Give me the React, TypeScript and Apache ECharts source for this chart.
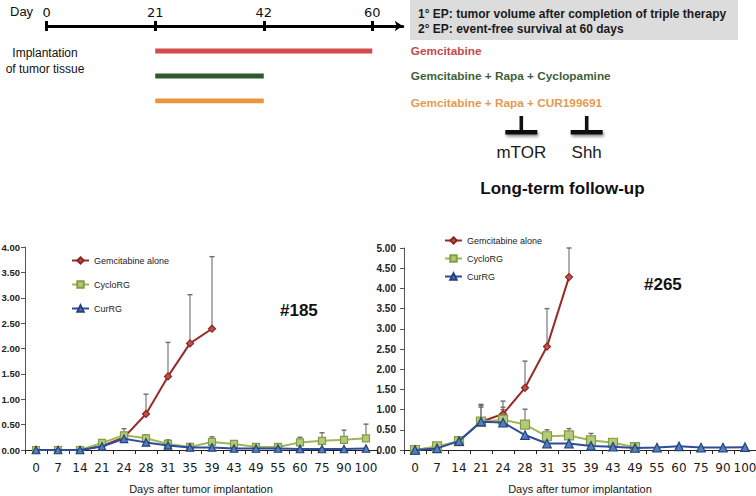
import React, { useEffect, useRef } from 'react';
import * as echarts from 'echarts';

// ---------- data ----------
const days = ['0', '7', '14', '21', '24', '28', '31', '35', '39', '43', '49', '55', '60', '75', '90', '100'];
const seriesNames = ['Gemcitabine alone', 'CycloRG', 'CurRG'];

// #185
const gem185 = [0, 0, 0, 0.08, 0.25, 0.71, 1.45, 2.1, 2.39];
const gem185Err = [null, null, null, null, null, 1.1, 2.12, 3.06, 3.81];
const cyclo185 = [0, 0, 0, 0.14, 0.29, 0.23, 0.12, 0.06, 0.16, 0.12, 0.06, 0.06, 0.15, 0.18, 0.2, 0.23];
const cyclo185Err = [null, null, null, null, 0.42, 0.3, 0.2, null, 0.26, 0.16, 0.1, 0.1, 0.25, 0.34, 0.39, 0.51];
const cur185 = [0, 0, 0, 0.07, 0.22, 0.15, 0.09, 0.05, 0.05, 0.03, 0.03, 0.03, 0.02, 0.02, 0.02, 0.03];

// #265
const gem265 = [0, 0.07, 0.22, 0.7, 0.89, 1.54, 2.56, 4.28];
const gem265Err = [null, null, null, 1.13, 1.21, 2.2, 3.5, 5.0];
const cyclo265 = [0, 0.09, 0.22, 0.7, 0.75, 0.63, 0.34, 0.36, 0.24, 0.18, 0.07];
const cyclo265Err = [null, null, null, 1.1, 1.06, 1.01, 0.5, 0.53, 0.41, 0.22, null];
const cur265 = [0, 0.04, 0.22, 0.7, 0.68, 0.37, 0.16, 0.16, 0.1, 0.08, 0.05, 0.06, 0.09, 0.06, 0.06, 0.07];
const cur265Err = [null, null, null, 1.06, 1.0];

// timeline
const timelineDays = ['0', '21', '42', '60'];
const treatmentNames = ['Gemcitabine', 'Gemcitabine + Rapa + Cyclopamine', 'Gemcitabine + Rapa + CUR199691'];
const treatmentStart = [1, 1, 1];
const treatmentEnd = [3, 2, 2];
const endpoints = ['1° EP: tumor volume after completion of triple therapy', '2° EP: event-free survival at 60 days'];
const targets = ['mTOR', 'Shh'];
const panelLabels = ['#185', '#265'];

// ---------- styles ----------
const lineColors = ['#962b28', '#9fb65c', '#2f4c9b'];
const markerFill = ['#c0504d', '#b3ca78', '#4f81bd'];
const markerBorder = ['#8a2623', '#839d43', '#26407f'];
const symbols = ['diamond', 'rect', 'triangle'];
const treatmentColors = ['#d44b4b', '#2f5a2c', '#e8963a'];
const treatmentTextColors = ['#c8474a', '#3e5f3a', '#e49a4e'];

const errData = (vals: (number | null)[], errs: (number | null)[]) =>
  errs
    .map((e, i) => (e == null || vals[i] == null ? null : [i, vals[i] as number, e]))
    .filter((d) => d !== null);

const errRender = (params: any, api: any) => {
  const i = api.value(0);
  const lo = api.value(1);
  const hi = api.value(2);
  const a = api.coord([i, lo]);
  const b = api.coord([i, hi]);
  return {
    type: 'group',
    children: [
      { type: 'line', shape: { x1: a[0], y1: a[1], x2: b[0], y2: b[1] }, style: { stroke: '#8d8d8d', lineWidth: 1.4 } },
      { type: 'line', shape: { x1: b[0] - 2.5, y1: b[1], x2: b[0] + 2.5, y2: b[1] }, style: { stroke: '#6d6d6d', lineWidth: 1.4 } },
    ],
  };
};

const lineSeries = (k: number, data: (number | null)[], axis: number, size: number) => ({
  type: 'line',
  name: seriesNames[k],
  xAxisIndex: axis,
  yAxisIndex: axis,
  data,
  symbol: symbols[k],
  symbolSize: k === 2 ? size - 0.5 : size,
  z: 3 + k,
  lineStyle: { color: lineColors[k], width: 2 },
  itemStyle: { color: markerFill[k], borderColor: markerBorder[k], borderWidth: 1.2 },
  connectNulls: false,
});

const errSeries = (vals: (number | null)[], errs: (number | null)[], axis: number) => ({
  type: 'custom',
  xAxisIndex: axis,
  yAxisIndex: axis,
  renderItem: errRender,
  data: errData(vals, errs),
  encode: { x: 0, y: [1, 2] },
  z: 1,
  silent: true,
});

const chartX = (gridIndex: number) => ({
  type: 'category',
  gridIndex,
  data: days,
  boundaryGap: true,
  axisLine: { lineStyle: { color: '#222', width: 1.2 } },
  axisTick: { show: true, length: 4, lineStyle: { color: '#222' } },
  axisLabel: { interval: 0, margin: 12, fontSize: 12, fontFamily: 'DejaVu Sans', color: '#1a1a1a' },
  name: 'Days after tumor implantation',
  nameLocation: 'middle',
  nameGap: 33,
  nameTextStyle: { fontSize: 11, fontFamily: 'Liberation Sans', color: '#1a1a1a' },
  splitLine: { show: false },
});

const chartY = (gridIndex: number, max: number, margin: number, fontSize: number) => ({
  type: 'value',
  gridIndex,
  min: 0,
  max,
  interval: 0.5,
  axisLine: { show: true, lineStyle: { color: '#555', width: 1 } },
  axisTick: { show: true, length: 4, lineStyle: { color: '#555' } },
  axisLabel: {
    margin,
    fontSize,
    fontWeight: 'bold',
    fontFamily: 'Liberation Sans',
    color: '#222',
    formatter: (v: number) => v.toFixed(2),
  },
  splitLine: { show: false },
});

const shadow = { shadowColor: 'rgba(0,0,0,0.45)', shadowBlur: 3, shadowOffsetX: 1, shadowOffsetY: 2 };

export default function App() {
  const ref = useRef<HTMLDivElement>(null);
  useEffect(() => {
    if (!ref.current) return;
    const chart = echarts.init(ref.current, undefined, { renderer: 'svg' });
    const option: any = {
      animation: false,
      backgroundColor: '#ffffff',
      grid: [
        { left: 25, top: 247, width: 352, height: 203, outerBoundsMode: 'none', containLabel: false },
        { left: 404, top: 248, width: 352, height: 202, outerBoundsMode: 'none', containLabel: false },
        { left: 46.7, top: 26, width: 356, height: 75, outerBoundsMode: 'none', containLabel: false },
      ],
      legend: [
        {
          data: seriesNames,
          orient: 'vertical',
          left: 66,
          top: 251,
          itemWidth: 17,
          itemHeight: 8,
          itemGap: 15,
          textStyle: { fontSize: 9, fontFamily: 'Liberation Sans', color: '#222' },
          selectedMode: false,
        },
        {
          data: seriesNames,
          orient: 'vertical',
          left: 439,
          top: 231,
          itemWidth: 17,
          itemHeight: 8,
          itemGap: 9,
          textStyle: { fontSize: 9, fontFamily: 'Liberation Sans', color: '#222' },
          selectedMode: false,
        },
      ],
      xAxis: [
        chartX(0),
        chartX(1),
        {
          type: 'value',
          gridIndex: 2,
          position: 'top',
          min: 0,
          max: 3.28,
          axisLine: {
            show: true,
            lineStyle: { color: '#000', width: 3 },
            symbol: ['none', 'arrow'],
            symbolSize: [8, 8],
          },
          axisTick: { show: true, customValues: [0, 1, 2, 3], length: 5, lineStyle: { color: '#000', width: 3 } },
          axisLabel: {
            customValues: [0, 1, 2, 3],
            formatter: (v: number) => timelineDays[Math.round(v)] ?? '',
            margin: 7,
            fontSize: 13,
            fontFamily: 'DejaVu Sans',
            color: '#111',
          },
          splitLine: { show: false },
        },
        {
          type: 'value',
          gridIndex: 2,
          position: 'top',
          min: 0,
          max: 3.28,
          axisLine: { show: false },
          axisTick: { show: true, inside: true, customValues: [0, 1, 2, 3], length: 5, lineStyle: { color: '#000', width: 3 } },
          axisLabel: { show: false },
          splitLine: { show: false },
        },
      ],
      yAxis: [
        chartY(0, 4, 5, 9.5),
        chartY(1, 5, 8, 10),
        { type: 'value', gridIndex: 2, min: 0, max: 3, inverse: true, show: false },
      ],
      series: [
        errSeries(gem185, gem185Err, 0),
        errSeries(cyclo185, cyclo185Err, 0),
        lineSeries(0, gem185, 0, 7),
        lineSeries(1, cyclo185, 0, 7),
        lineSeries(2, cur185, 0, 8),
        errSeries(gem265, gem265Err, 1),
        errSeries(cyclo265, cyclo265Err, 1),
        errSeries(cur265, cur265Err, 1),
        lineSeries(0, gem265, 1, 7),
        lineSeries(1, cyclo265, 1, 9),
        lineSeries(2, cur265, 1, 9),
        ...treatmentNames.map((n, k) => ({
          type: 'line',
          name: n,
          xAxisIndex: 2,
          yAxisIndex: 2,
          data: [
            [treatmentStart[k], k + 1],
            [treatmentEnd[k], k + 1],
          ],
          symbol: 'none',
          lineStyle: { color: treatmentColors[k], width: 5, cap: 'butt' },
          silent: true,
        })),
      ],
      graphic: [
        { type: 'text', left: 10, top: 5, style: { text: 'Day', fontSize: 13, fontFamily: 'Liberation Sans', fill: '#111' } },
        {
          type: 'text',
          x: 45,
          y: 61,
          style: {
            text: 'Implantation\nof tumor tissue',
            fontSize: 12,
            lineHeight: 16,
            fontFamily: 'Liberation Sans',
            fill: '#111',
            align: 'center',
            verticalAlign: 'middle',
          },
        },
        { type: 'rect', shape: { x: 410, y: 0, width: 328, height: 40 }, style: { fill: '#dcdcdc' } },
        ...endpoints.map((t, i) => ({
          type: 'text',
          x: 418,
          y: 14 + i * 15,
          style: { text: t, fontSize: 12, fontWeight: 'bold', fontFamily: 'Liberation Sans', fill: '#1a1a1a', verticalAlign: 'middle' },
        })),
        ...treatmentNames.map((t, i) => ({
          type: 'text',
          x: 410.7,
          y: [51, 76, 103][i],
          style: {
            text: t,
            fontSize: 11.8,
            fontWeight: 'bold',
            fontFamily: 'Liberation Sans',
            fill: treatmentTextColors[i],
            verticalAlign: 'middle',
            ...shadow,
          },
        })),
        ...[521.3, 586.7].flatMap((cx) => [
          { type: 'rect', shape: { x: cx - 16, y: 130, width: 32, height: 4.5 }, style: { fill: '#111', ...shadow } },
          { type: 'rect', shape: { x: cx - 1.8, y: 116, width: 3.6, height: 15 }, style: { fill: '#111' } },
        ]),
        ...targets.map((t, i) => ({
          type: 'text',
          x: [521.3, 586.7][i],
          y: 152,
          style: { text: t, fontSize: 17, fontFamily: 'Liberation Sans', fill: '#1a1a1a', align: 'center', verticalAlign: 'middle' },
        })),
        {
          type: 'text',
          x: 562.5,
          y: 188,
          style: {
            text: 'Long-term follow-up',
            fontSize: 17,
            fontWeight: 'bold',
            fontFamily: 'Liberation Sans',
            fill: '#111',
            align: 'center',
            verticalAlign: 'middle',
          },
        },
        ...panelLabels.map((t, i) => ({
          type: 'text',
          x: [280, 644][i],
          y: [310, 284][i],
          style: { text: t, fontSize: 17, fontWeight: 'bold', fontFamily: 'Liberation Sans', fill: '#111', verticalAlign: 'middle' },
        })),
      ],
    };
    chart.setOption(option);
    return () => chart.dispose();
  }, []);
  return <div ref={ref} style={{ position: 'fixed', left: 0, top: 0, width: 756, height: 496 }} />;
}
